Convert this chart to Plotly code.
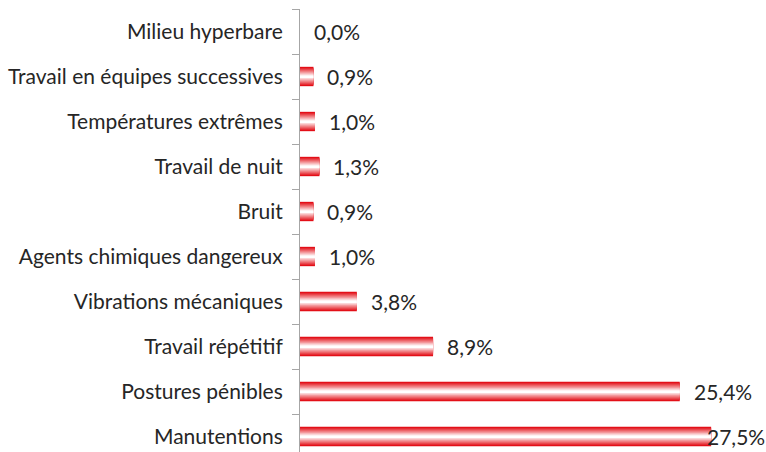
import plotly.graph_objects as go

categories = ["Manutentions", "Postures pénibles", "Travail répétitif", "Vibrations mécaniques",
              "Agents chimiques dangereux", "Bruit", "Travail de nuit", "Températures extrêmes",
              "Travail en équipes successives", "Milieu hyperbare"]
values = [27.5, 25.4, 8.9, 3.8, 1.0, 0.9, 1.3, 1.0, 0.9, 0.0]
labels = ["27,5%", "25,4%", "8,9%", "3,8%", "1,0%", "0,9%", "1,3%", "1,0%", "0,9%", "0,0%"]

fig = go.Figure()

N = 10
full_w = 0.43
red = (226, 10, 18)
for k in range(N):
    t = k / (N - 1)
    c = tuple(int(round(r + (255 - r) * t)) for r in red)
    fig.add_trace(go.Bar(
        y=categories, x=values, orientation="h",
        width=full_w * (1 - k / N),
        marker=dict(color="rgb(%d,%d,%d)" % c, line=dict(width=0)),
        hoverinfo="skip", showlegend=False,
    ))

FONT = "Lato, sans-serif"
FS = 21
xmax = 31.17
for cat, v, lab in zip(categories, values, labels):
    shift = 12 if v + 4.7 < xmax else -6
    fig.add_annotation(x=v, y=cat, text=lab, showarrow=False, xanchor="left",
                       xshift=shift, font=dict(family=FONT, size=FS, color="#262626"))

fig.update_layout(
    width=766, height=452,
    margin=dict(l=300, r=0, t=9, b=0),
    paper_bgcolor="white", plot_bgcolor="white",
    barmode="overlay",
    font=dict(family=FONT, size=FS, color="#262626"),
    xaxis=dict(range=[0, xmax], visible=False, showgrid=False, zeroline=False),
    yaxis=dict(type="category", categoryorder="array", categoryarray=categories,
               range=[-0.5 + 7 / 45, 9.5], showgrid=False, zeroline=False,
               showline=True, linecolor="#A6A6A6", linewidth=1,
               ticks="outside", tickson="boundaries", ticklen=7, tickcolor="#A6A6A6",
               ticklabelstandoff=12, automargin=False,
               tickfont=dict(family=FONT, size=FS, color="#262626")),
)

fig.write_html("out.html", config={"displayModeBar": False},
               post_script="document.body.style.margin='0';document.body.style.overflow='hidden';")
